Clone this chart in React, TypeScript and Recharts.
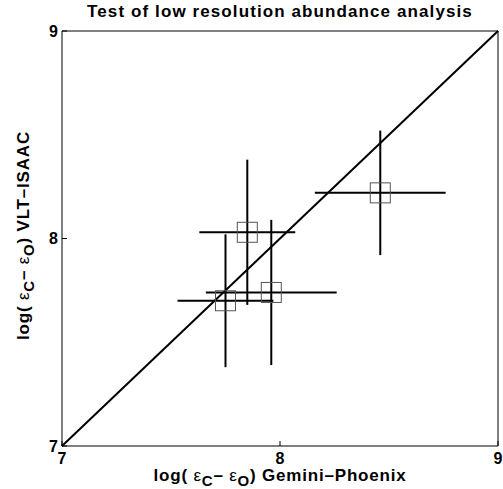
import { ScatterChart, Scatter, XAxis, YAxis, ErrorBar, ReferenceLine, Label } from 'recharts';

// log(eps_C - eps_O): Gemini-Phoenix vs VLT-ISAAC
const gemini = [7.75, 7.85, 7.96, 8.46];
const isaac = [7.7, 8.03, 7.74, 8.22];
const geminiErr = [0.22, 0.22, 0.3, 0.3];
const isaacErr = [0.32, 0.35, 0.35, 0.3];
const axisTicks = [7, 8, 9];
const axisDomain = [7, 9];

const points = gemini.map((x, i) => ({ x, y: isaac[i], ex: geminiErr[i], ey: isaacErr[i] }));

const FONT = '"Liberation Sans", Arial, Helvetica, sans-serif';

// force bold axis numbers whichever way recharts draws them
const css = `
.recharts-cartesian-axis-tick text,
.recharts-cartesian-axis-tick-value {
  font-family: ${FONT};
  font-size: 16px;
  font-weight: 700;
  fill: #000;
}
`;

const BottomTick = (props: any) => {
  const { x, y, payload } = props;
  return (
    <text className="tick-num" x={x} y={y} dy="0.71em" textAnchor="middle" fontFamily={FONT} fontSize={16} fontWeight={700} fill="#000">
      {payload.value}
    </text>
  );
};

const LeftTick = (props: any) => {
  const { x, y, payload } = props;
  return (
    <text className="tick-num" x={x} y={y} dy="0.36em" textAnchor="end" fontFamily={FONT} fontSize={16} fontWeight={700} fill="#000">
      {payload.value}
    </text>
  );
};

const Square = (props: any) => {
  const { cx, cy } = props;
  return <rect x={cx - 10} y={cy - 10} width={20} height={20} fill="none" stroke="#555" strokeWidth={1} />;
};

const labelProps = { fontFamily: FONT, fontSize: 17, fontWeight: 700, fill: '#000', letterSpacing: 0.8 };

const XTitle = (props: any) => {
  const { x, y, width } = props.viewBox;
  return (
    <text x={x + width / 2} y={y + 35} textAnchor="middle" {...labelProps}>
      log(<tspan fontWeight={400}> ε</tspan>
      <tspan dy={5} fontSize={15}>C</tspan>
      <tspan dy={-5}>–</tspan>
      <tspan fontWeight={400}> ε</tspan>
      <tspan dy={5} fontSize={15}>O</tspan>
      <tspan dy={-5}>) Gemini–Phoenix</tspan>
    </text>
  );
};

const YTitle = (props: any) => {
  const { y, height } = props.viewBox;
  const cx = 29;
  const cy = y + height / 2 - 3;
  return (
    <text x={cx} y={cy} transform={`rotate(-90, ${cx}, ${cy})`} textAnchor="middle" {...labelProps}>
      log(<tspan fontWeight={400}> ε</tspan>
      <tspan dy={5} fontSize={15}>C</tspan>
      <tspan dy={-5}>–</tspan>
      <tspan fontWeight={400}> ε</tspan>
      <tspan dy={5} fontSize={15}>O</tspan>
      <tspan dy={-5}>) VLT–ISAAC</tspan>
    </text>
  );
};

const Title = (props: any) => {
  const { x, width } = props.viewBox;
  return (
    <text x={x + width / 2} y={17} textAnchor="middle" fontFamily={FONT} fontSize={17} fontWeight={700} letterSpacing={1.1} fill="#000">
      Test of low resolution abundance analysis
    </text>
  );
};

export default function App() {
  return (
    <div style={{ position: 'absolute', left: 0, top: 0, background: '#fff' }}>
      <style>{css}</style>
      <ScatterChart width={503} height={489} margin={{ top: 30, right: 4, bottom: 0, left: 0 }}>
        <XAxis
          type="number"
          dataKey="x"
          domain={axisDomain}
          ticks={axisTicks}
          interval={0}
          height={43}
          tickSize={-5}
          tickMargin={12}
          tick={BottomTick}
          axisLine={{ stroke: '#000' }}
          tickLine={{ stroke: '#000' }}
          allowDataOverflow
        >
          <Label content={XTitle} />
        </XAxis>
        <XAxis
          xAxisId="top"
          orientation="top"
          type="number"
          domain={axisDomain}
          ticks={axisTicks}
          interval={0}
          height={1}
          tickSize={-5}
          tick={false}
          axisLine={{ stroke: '#000' }}
          tickLine={{ stroke: '#000' }}
          allowDataOverflow
        >
          <Label content={Title} />
        </XAxis>
        <YAxis
          type="number"
          dataKey="y"
          domain={axisDomain}
          ticks={axisTicks}
          interval={0}
          width={62}
          tickSize={-5}
          tickMargin={9}
          tick={LeftTick}
          axisLine={{ stroke: '#000' }}
          tickLine={{ stroke: '#000' }}
          allowDataOverflow
        >
          <Label content={YTitle} />
        </YAxis>
        <YAxis
          yAxisId="right"
          orientation="right"
          type="number"
          domain={axisDomain}
          ticks={axisTicks}
          interval={0}
          width={1}
          tickSize={-5}
          tick={false}
          axisLine={{ stroke: '#000' }}
          tickLine={{ stroke: '#000' }}
          allowDataOverflow
        />
        <ReferenceLine
          segment={[
            { x: axisDomain[0], y: axisDomain[0] },
            { x: axisDomain[1], y: axisDomain[1] },
          ]}
          stroke="#000"
          strokeWidth={2}
        />
        <Scatter data={points} shape={Square} isAnimationActive={false}>
          <ErrorBar dataKey="ex" direction="x" width={0} stroke="#000" strokeWidth={2} isAnimationActive={false} />
          <ErrorBar dataKey="ey" direction="y" width={0} stroke="#000" strokeWidth={2} isAnimationActive={false} />
        </Scatter>
      </ScatterChart>
    </div>
  );
}
